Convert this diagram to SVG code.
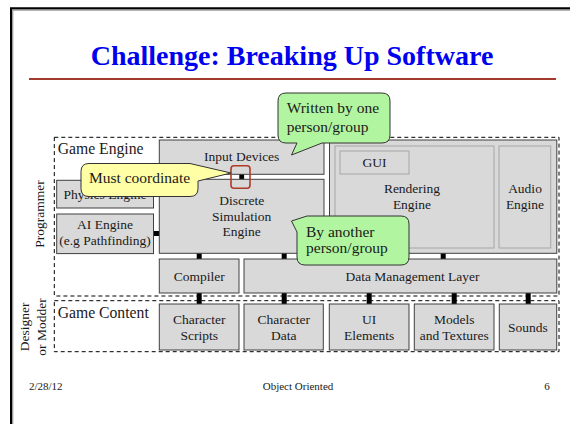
<svg xmlns="http://www.w3.org/2000/svg" width="570" height="424" viewBox="0 0 570 424">
<defs>
<style>
.t{font-family:"Liberation Serif","Times New Roman",serif;fill:#1a1a1a;}
.lbl{font-size:13.5px;text-anchor:middle;}
.big{font-size:15.5px;}
.box{fill:#d9d9d9;stroke:#404040;stroke-width:1;}
.inner{fill:#d9d9d9;stroke:#a6a6a6;stroke-width:1;}
.dash{fill:none;stroke:#000;stroke-width:1;stroke-dasharray:4 3;}
.conn{fill:#000;}
.green{fill:#b2f5a0;stroke:#333;stroke-width:1;}
.yellow{fill:#ffffa6;stroke:#333;stroke-width:1;}
</style>
</defs>
<rect width="570" height="424" fill="#fff"/>
<g id="frame">
<path d="M12.7,424 V10 H570" fill="none" stroke="#9a9a9a" stroke-width="1.3"/>
<path d="M11,424 V8.3 H570" fill="none" stroke="#000" stroke-width="2"/>
</g>
<g id="title">
<text class="t" x="292" y="65" font-size="28" font-weight="bold" text-anchor="middle" style="fill:#0000f0">Challenge: Breaking Up Software</text>
<line x1="29" y1="79" x2="556" y2="79" stroke="#a33a2e" stroke-width="2"/>
</g>
<g id="side-labels">
<text class="t" transform="translate(43.5,214) rotate(-90)" font-size="13.5" text-anchor="middle">Programmer</text>
<text class="t" transform="translate(29,327) rotate(-90)" font-size="13.5" text-anchor="middle">Designer</text>
<text class="t" transform="translate(46,327) rotate(-90)" font-size="13.5" text-anchor="middle">or Modder</text>
</g>
<g id="game-engine">
<rect class="dash" x="54.3" y="137.3" width="504.7" height="158.7"/>
<text class="t" x="57.7" y="154.3" font-size="15.7">Game Engine</text>
</g>
<g id="game-content">
<rect class="dash" x="54.3" y="300.7" width="504.7" height="51"/>
<text class="t" x="57.7" y="318.3" font-size="15.7">Game Content</text>
</g>
<g id="connectors">
<rect class="conn" x="153.5" y="231" width="6" height="5"/>
<rect class="conn" x="239.3" y="174" width="4.8" height="5.5"/>
<rect class="conn" x="196.7" y="253" width="5" height="6.5"/>
<rect class="conn" x="281.7" y="253" width="5" height="6.5"/>
<rect class="conn" x="440.7" y="253" width="5" height="6.5"/>
<rect class="conn" x="196.7" y="293" width="5" height="11"/>
<rect class="conn" x="281.7" y="293" width="5" height="11"/>
<rect class="conn" x="366.7" y="293" width="5" height="11"/>
<rect class="conn" x="451.7" y="293" width="5" height="11"/>
<rect class="conn" x="525.7" y="293" width="5" height="11"/>
</g>
<g id="input-devices">
<rect class="box" x="159.3" y="140" width="164.7" height="34.3"/>
<text class="t lbl" x="241.7" y="161.3">Input Devices</text>
</g>
<g id="discrete-simulation-engine">
<rect class="box" x="159.3" y="179.3" width="164.7" height="74"/>
<text class="t lbl" x="241.7" y="205">Discrete</text>
<text class="t lbl" x="241.7" y="220.6">Simulation</text>
<text class="t lbl" x="241.7" y="236.2">Engine</text>
</g>
<g id="physics-engine">
<rect class="box" x="56.7" y="180.3" width="96.8" height="27.7"/>
<text class="t lbl" x="105" y="198.7">Physics Engine</text>
</g>
<g id="ai-engine">
<rect class="box" x="56.7" y="214" width="96.8" height="39.6"/>
<text class="t lbl" x="105" y="229.3">AI Engine</text>
<text class="t lbl" x="105" y="245">(e.g Pathfinding)</text>
</g>
<g id="render-audio">
<rect class="box" x="329.5" y="140" width="227.3" height="113.3"/>
</g>
<g id="rendering-engine">
<rect class="inner" x="335" y="146" width="159" height="102"/>
<text class="t lbl" x="412" y="193.3">Rendering</text>
<text class="t lbl" x="412" y="209">Engine</text>
</g>
<g id="gui">
<rect class="inner" x="340" y="151" width="69" height="23"/>
<text class="t lbl" x="374.5" y="166.7">GUI</text>
</g>
<g id="audio-engine">
<rect class="inner" x="499" y="146" width="51.7" height="102"/>
<text class="t lbl" x="525" y="193.3">Audio</text>
<text class="t lbl" x="525" y="209">Engine</text>
</g>
<g id="compiler">
<rect class="box" x="159.3" y="259" width="79.7" height="34"/>
<text class="t lbl" x="199.2" y="280.7">Compiler</text>
</g>
<g id="data-management-layer">
<rect class="box" x="244" y="259" width="312.8" height="34"/>
<text class="t lbl" x="412.5" y="280.7">Data Management Layer</text>
</g>
<g id="character-scripts">
<rect class="box" x="159.3" y="304" width="79.7" height="46"/>
<text class="t lbl" x="199.2" y="324">Character</text>
<text class="t lbl" x="199.2" y="340">Scripts</text>
</g>
<g id="character-data">
<rect class="box" x="244" y="304" width="79.3" height="46"/>
<text class="t lbl" x="283.7" y="324">Character</text>
<text class="t lbl" x="283.7" y="340">Data</text>
</g>
<g id="ui-elements">
<rect class="box" x="329.3" y="304" width="79.7" height="46"/>
<text class="t lbl" x="369.2" y="324">UI</text>
<text class="t lbl" x="369.2" y="340">Elements</text>
</g>
<g id="models-textures">
<rect class="box" x="414.3" y="304" width="79.7" height="46"/>
<text class="t lbl" x="454.2" y="324">Models</text>
<text class="t lbl" x="454.2" y="340">and Textures</text>
</g>
<g id="sounds">
<rect class="box" x="499.3" y="304" width="57.4" height="46"/>
<text class="t lbl" x="528" y="331.5">Sounds</text>
</g>
<g id="highlight">
<rect x="231" y="165.7" width="19" height="22.6" rx="3" fill="none" stroke="#b03a2a" stroke-width="1.6"/>
</g>
<g id="callout-must-coordinate">
<path class="yellow" d="M89,163.5 H190 L231,173 L198,181 V188.5 Q198,196.5 190,196.5 H89 Q81,196.5 81,188.5 V171.5 Q81,163.5 89,163.5 Z"/>
<text class="t big" x="139.5" y="183.3" text-anchor="middle">Must coordinate</text>
</g>
<g id="callout-written-by-one">
<path class="green" d="M286,93 H382 Q390,93 390,101 V135 Q390,143 382,143 H322 L291.5,155 L297,143 H286 Q278,143 278,135 V101 Q278,93 286,93 Z"/>
<text class="t big" x="286.7" y="113">Written by one</text>
<text class="t big" x="286.7" y="132.3">person/group</text>
</g>
<g id="callout-by-another">
<path class="green" d="M307,216 H401 Q409,216 409,224 V257 Q409,265 401,265 H305 Q297,265 297,257 V232 L291.5,221 Z"/>
<text class="t big" x="306" y="236.7">By another</text>
<text class="t big" x="306" y="253">person/group</text>
</g>
<g id="footer">
<text class="t" x="29" y="390" font-size="11">2/28/12</text>
<text class="t" x="298" y="390" font-size="11" text-anchor="middle">Object Oriented</text>
<text class="t" x="547" y="390" font-size="11" text-anchor="middle">6</text>
</g>
</svg>
